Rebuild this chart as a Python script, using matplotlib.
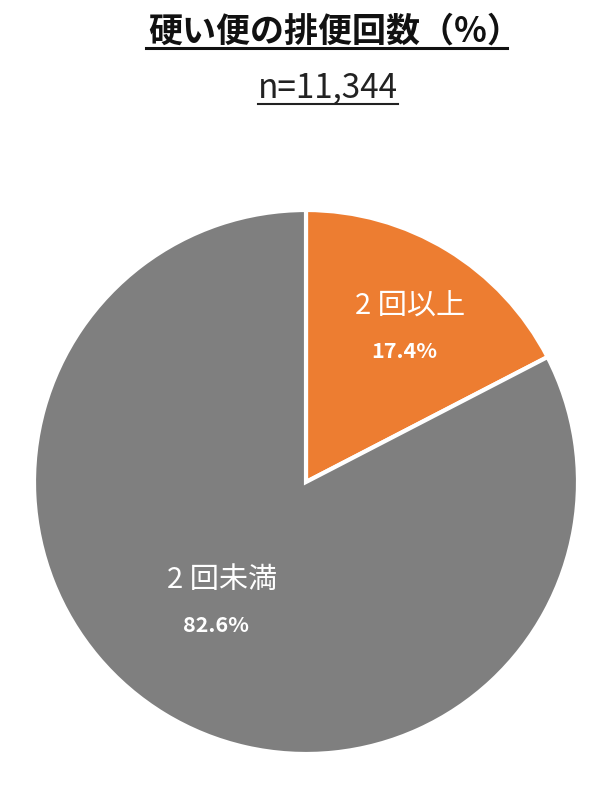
import matplotlib
matplotlib.use("Agg")
import matplotlib.pyplot as plt
from matplotlib.lines import Line2D

plt.rcParams['font.family'] = ['Noto Sans CJK JP', 'DejaVu Sans']

# data
categories = ['2回以上', '2回未満']
shares = [17.4, 82.6]
colors = ['#ED7D31', '#7F7F7F']
title = '硬い便の排便回数（%）'
subtitle = 'n=11,344'

W, H = 600, 793
fig = plt.figure(figsize=(W / 100, H / 100), dpi=100)
ax = fig.add_axes([0, 0, 1, 1])
ax.set_xlim(0, W)
ax.set_ylim(0, H)
ax.set_aspect('equal')
ax.axis('off')

wedges, _ = ax.pie(shares, colors=colors, startangle=90, counterclock=False,
                   center=(306, H - 482), radius=272,
                   wedgeprops=dict(edgecolor='white', linewidth=3))
ax.set_xlim(0, W)
ax.set_ylim(0, H)

# slice labels
label_pos = [(410, 307), (222, 580)]
for cat, val, (x, y) in zip(categories, shares, label_pos):
    ax.text(x, H - y, cat[0] + ' ' + cat[1:], color='white', fontsize=21,
            ha='center', va='center')
    ax.text(x - 6, H - y - 45, f'{val}%', color='white', fontsize=15.5,
            fontweight='bold', ha='center', va='center')

# underlined title and n
t1 = ax.text(335, H - 31, title, fontsize=24.5, fontweight='bold',
             ha='center', va='center', color='#111111')
t2 = ax.text(328, H - 88, subtitle, fontsize=24, ha='center', va='center',
             color='#222222')

fig.canvas.draw()
r = fig.canvas.get_renderer()
for t, uy, lw, x0pad, x1pad in [(t1, 48, 2.2, -3, -14), (t2, 104, 1.5, 0, 0)]:
    bb = t.get_window_extent(r)
    fig.add_artist(Line2D([(bb.x0 + x0pad) / W, (bb.x1 + x1pad) / W],
                          [1 - uy / H, 1 - uy / H],
                          transform=fig.transFigure, color=t.get_color(), lw=lw))

fig.savefig('out.png', dpi=100, facecolor='white')
